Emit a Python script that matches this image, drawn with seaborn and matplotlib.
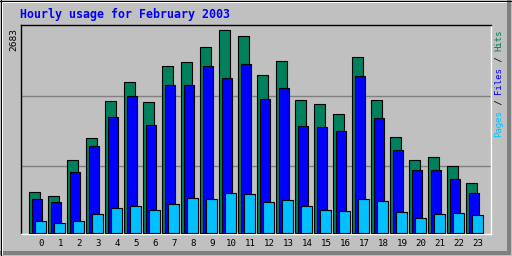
import matplotlib
matplotlib.use("Agg")
import matplotlib.pyplot as plt
from matplotlib.lines import Line2D
from matplotlib.patches import Rectangle
import numpy as np
import pandas as pd
import seaborn as sns

# ---- data ----
hours = list(range(24))
hits = [546, 493, 968, 1258, 1746, 1997, 1733, 2208, 2261, 2459, 2683, 2604,
        2089, 2274, 1760, 1707, 1575, 2327, 1760, 1272, 968, 1008, 889, 665]
files = [454, 414, 810, 1153, 1535, 1812, 1430, 1957, 1957, 2208, 2050, 2234,
         1773, 1918, 1417, 1403, 1351, 2076, 1522, 1100, 836, 836, 718, 533]
pages = [164, 137, 164, 256, 335, 361, 309, 388, 467, 454, 533, 520,
         414, 441, 361, 309, 295, 454, 427, 282, 203, 256, 269, 243]
tick_labels = [str(h) for h in hours]
max_label = "2683"
title = "Hourly usage for February 2003"

C_HITS = "#00805c"
C_FILES = "#0000ff"
C_PAGES = "#00c0ff"
BG = "#c0c0c0"

W, H = 512, 256
fig = plt.figure(figsize=(W / 100, H / 100), dpi=100, facecolor=BG)

def fx(x):
    return x / W

def fy(y):
    return 1 - y / H

ax_l, ax_r, ax_t, ax_b = 20.5, 491.0, 25.0, 234.0
ax = fig.add_axes([fx(ax_l), fy(ax_b), fx(ax_r) - fx(ax_l), fy(ax_t) - fy(ax_b)])
ax.set_facecolor(BG)

k = 13.19  # value per pixel
ymin = -1 * k
ymax = (233 - 25) * k

bar_w = 0.55
offsets = {"hits": -0.355, "files": -0.215, "pages": -0.04}
for name, vals, col in [("hits", hits, C_HITS), ("files", files, C_FILES), ("pages", pages, C_PAGES)]:
    df = pd.DataFrame({"x": np.array(hours) + offsets[name], "y": vals})
    sns.barplot(data=df, x="x", y="y", native_scale=True, width=bar_w, color=col,
                saturation=1, edgecolor="black", linewidth=0.8, errorbar=None, ax=ax,
                zorder=3)

for gv in [889, 1812]:
    ax.axhline(gv, color="#808080", lw=1.0, zorder=1)

xl = -(41.3 - ax_l) / 19
ax.set_xlim(xl, xl + (ax_r - ax_l) / 19)
ax.set_ylim(ymin, ymax)
ax.set_xticks(hours)
ax.set_xticklabels(tick_labels, fontsize=6.6, family="DejaVu Sans Mono", color="black")
ax.set_yticks([])
ax.tick_params(axis="x", length=0, pad=3.5)
ax.set_xlabel("")
ax.set_ylabel("")
for s in ["top", "left"]:
    ax.spines[s].set_color("black")
    ax.spines[s].set_linewidth(1.0)
for s in ["bottom", "right"]:
    ax.spines[s].set_color("white")
    ax.spines[s].set_linewidth(1.0)

# title
fig.text(fx(20), fy(14.5), title, color="#0000ff", fontsize=8.4, fontweight="bold",
         family="DejaVu Sans Mono", ha="left", va="center")

# max label
fig.text(fx(13.5), fy(28), max_label, color="black", fontsize=6.8, family="DejaVu Sans Mono",
         rotation=90, rotation_mode="anchor", ha="right", va="center")

# right legend text, bottom to top
segs = [("Pages", C_PAGES), (" / ", "black"), ("Files", C_FILES), (" / ", "black"), ("Hits", C_HITS)]
cw = 5.4
y0 = 137.0
idx = 0
for txt, col in segs:
    fig.text(fx(498.5), fy(y0 - idx * cw), txt, color=col, fontsize=6.5,
             family="DejaVu Sans Mono", rotation=90, rotation_mode="anchor",
             ha="left", va="center")
    idx += len(txt)

# frame decorations
fig.add_artist(Rectangle((fx(507), fy(255)), fx(4), fy(0) - fy(255) , transform=fig.transFigure,
                         facecolor="#808080", edgecolor="none"))
fig.add_artist(Rectangle((fx(0), fy(255)), fx(511), fy(251) - fy(255), transform=fig.transFigure,
                         facecolor="#808080", edgecolor="none"))
for (x1, y1, x2, y2, c) in [(1.5, 1.5, 1.5, 254, "white"), (1.5, 1.5, 506, 1.5, "white"),
                            (0.5, 0, 0.5, 256, "black"), (0, 0.5, 512, 0.5, "black"),
                            (511.5, 0, 511.5, 256, "black"), (0, 255.5, 512, 255.5, "black")]:
    fig.add_artist(Line2D([fx(x1), fx(x2)], [fy(y1), fy(y2)], transform=fig.transFigure,
                          color=c, lw=0.72))

fig.savefig("out.png", dpi=100, facecolor=BG)
